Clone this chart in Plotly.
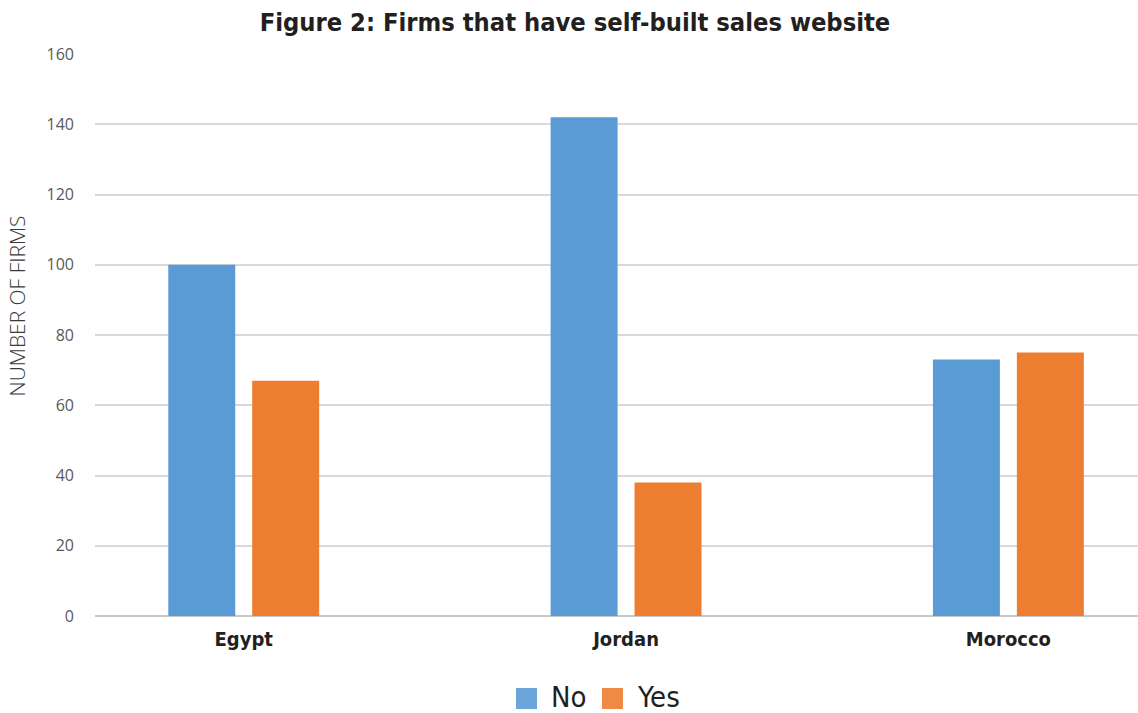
import plotly.graph_objects as go

countries = ["Egypt", "Jordan", "Morocco"]
no_values = [100, 142, 73]
yes_values = [67, 38, 75]
series_names = ["No", "Yes"]
y_ticks = [0, 20, 40, 60, 80, 100, 120, 140, 160]

blue = "#5B9BD5"
orange = "#ED7D31"
narrow = "DejaVu Sans Condensed, Liberation Sans Narrow, sans-serif"

W, H = 1138, 713
ml, mr, mt, mb = 95, 0, 54, 97

fig = go.Figure()
fig.add_trace(go.Bar(x=countries, y=no_values, name=series_names[0],
                     marker=dict(color=blue, line=dict(width=0)), showlegend=False))
fig.add_trace(go.Bar(x=countries, y=yes_values, name=series_names[1],
                     marker=dict(color=orange, line=dict(width=0)), showlegend=False))

fig.update_layout(
    width=W, height=H,
    margin=dict(l=ml, r=mr, t=mt, b=mb),
    paper_bgcolor="white", plot_bgcolor="white",
    barmode="group", bargap=0.561, bargroupgap=0.202,
    title=dict(text="<b>Figure 2: Firms that have self-built sales website</b>",
               x=575 / W, xref="container", xanchor="center",
               y=1 - 22 / H, yref="container", yanchor="middle",
               font=dict(family=narrow, size=25.3, color="#231F20")),
    xaxis=dict(range=[-0.389, 2.339], showgrid=False, zeroline=False,
               showline=False, ticks="", ticklabelstandoff=9,
               tickfont=dict(family=narrow, size=20, color="#231F20", weight="bold")),
    yaxis=dict(range=[0, 160], tickvals=y_ticks, showgrid=True,
               gridcolor="#D9D9D9", gridwidth=1.5, zeroline=True,
               zerolinecolor="#C8C8C8", zerolinewidth=1.5, showline=False,
               ticks="", ticklabelstandoff=20,
               tickfont=dict(family="Open Sans, sans-serif", size=16, color="#595959")),
    showlegend=False,
)

# Vertical axis label
fig.add_annotation(text="NUMBER OF FIRMS", textangle=-90,
                   xref="paper", yref="paper",
                   x=(16.5 - ml) / (W - ml - mr), y=(616 - 306) / (616 - 54),
                   xanchor="center", yanchor="middle", showarrow=False,
                   font=dict(family="Open Sans, sans-serif", size=21,
                             color="#3A3A3A", weight=300))

# Legend drawn below the category labels
legend_items = [(series_names[0], blue, 516), (series_names[1], orange, 602)]
for label, color, x0 in legend_items:
    fig.add_shape(type="rect", xref="paper", yref="paper",
                  x0=(x0 - ml) / (W - ml), x1=(x0 + 21 - ml) / (W - ml),
                  y0=(616 - 709) / 562, y1=(616 - 688) / 562,
                  fillcolor=color, line=dict(width=0), opacity=0.9)
    fig.add_annotation(text=label, xref="paper", yref="paper",
                       x=(x0 + 33 - ml) / (W - ml), y=(616 - 697) / 562,
                       xanchor="left", yanchor="middle", showarrow=False,
                       font=dict(family=narrow, size=29, color="#231F20"))

fig.write_html("out.html")
